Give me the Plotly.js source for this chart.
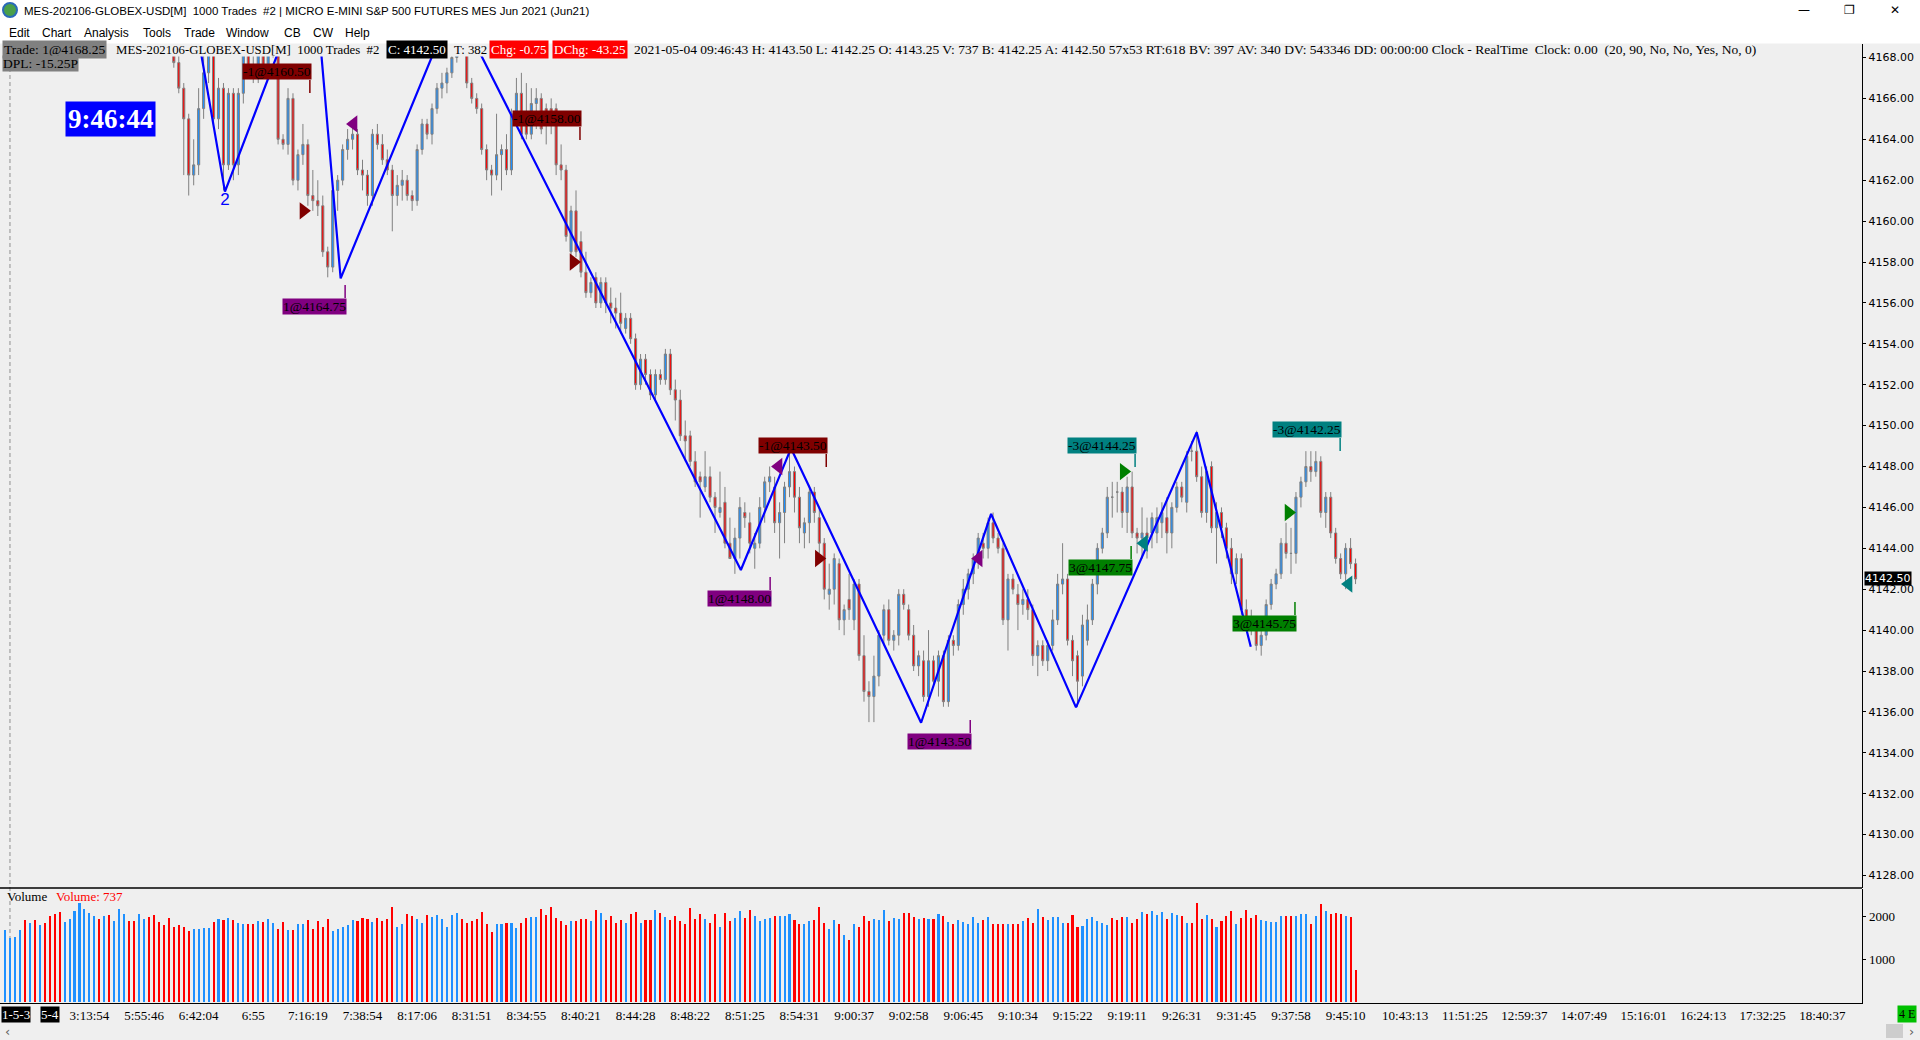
<!DOCTYPE html>
<html><head><meta charset="utf-8">
<script src="https://cdn.plot.ly/plotly-3.0.1.min.js"></script>
<style>html,body{margin:0;padding:0;background:#efefef;overflow:hidden}#chart{width:1920px;height:1040px}</style>
</head><body><div id="chart"></div>
<script>
// ---------------- DATA ----------------
const barOpen = [
4171.0,4171.75,4172.5,4173.25,4174.0,4173.0,4174.5,4173.5,4175.0,4174.0,
4172.75,4171.5,4170.25,4171.5,4172.5,4173.75,4175.25,4176.25,4177.0,4178.0,
4176.75,4177.75,4176.25,4177.0,4178.25,4178.75,4177.25,4175.75,4176.75,4177.5,
4176.0,4174.5,4173.0,4171.5,4169.5,4167.75,4166.5,4165.0,4162.25,4162.75,
4165.5,4167.25,4168.25,4165.0,4166.5,4162.75,4166.25,4162.75,4166.25,4168.25,
4167.5,4167.0,4168.25,4167.5,4168.5,4169.0,4164.0,4163.75,4166.0,4162.0,
4163.25,4163.75,4161.25,4161.0,4160.75,4158.5,4157.75,4161.5,4162.0,4163.5,
4164.0,4164.25,4162.5,4162.25,4161.25,4164.25,4163.75,4163.0,4162.5,4161.25,
4161.75,4162.0,4161.25,4161.0,4163.5,4164.75,4164.25,4165.5,4166.5,4166.75,
4167.25,4168.0,4170.0,4168.5,4166.75,4166.0,4165.5,4163.5,4162.5,4162.25,
4163.25,4163.5,4162.5,4165.25,4166.25,4165.0,4164.25,4165.75,4166.0,4165.5,
4165.5,4165.5,4162.75,4162.5,4158.5,4160.5,4159.0,4157.5,4156.5,4157.25,
4156.0,4157.0,4156.0,4155.75,4155.5,4154.75,4155.25,4154.25,4152.0,4153.25,
4152.5,4151.5,4152.5,4152.25,4153.5,4151.75,4151.25,4149.5,4149.5,4148.25,
4147.5,4147.0,4147.5,4146.5,4145.75,4146.25,4144.25,4143.5,4144.5,4145.75,
4145.25,4144.0,4144.25,4146.0,4147.25,4147.0,4145.25,4145.75,4147.0,4147.75,
4146.5,4144.75,4145.25,4146.75,4145.5,4144.25,4141.75,4142.0,4143.25,4140.5,
4141.5,4140.5,4142.25,4138.75,4137.0,4136.75,4137.75,4139.75,4141.0,4139.5,
4139.75,4141.75,4141.0,4139.75,4138.25,4138.5,4136.75,4138.5,4137.5,4138.75,
4136.5,4139.5,4139.25,4141.25,4142.0,4142.75,4143.5,4144.25,4144.0,4145.25,
4144.5,4144.0,4140.5,4142.5,4141.75,4141.25,4141.5,4141.0,4138.75,4139.25,
4138.5,4139.25,4140.5,4142.25,4142.5,4139.5,4138.75,4137.75,4139.5,4140.5,
4142.25,4144.0,4144.75,4146.5,4146.75,4146.75,4145.75,4147.0,4144.75,4144.5,
4144.75,4144.75,4144.75,4145.25,4145.5,4144.75,4146.0,4147.0,4146.25,4148.75,
4148.75,4147.5,4145.75,4148.0,4145.0,4145.75,4145.0,4144.0,4142.75,4143.5,
4141.0,4140.5,4140.0,4139.25,4139.75,4141.25,4142.25,4142.75,4144.25,4143.75,
4143.75,4146.5,4147.25,4148.0,4147.75,4148.25,4145.75,4146.5,4144.75,4143.5,
4142.75,4144.0,4143.25];
const barHigh = [
4172.25,4173.0,4173.5,4174.5,4174.5,4174.75,4175.0,4175.25,4175.5,4174.25,
4173.0,4171.75,4171.75,4172.75,4174.0,4175.5,4176.5,4177.5,4178.25,4178.5,
4178.0,4178.0,4177.25,4178.5,4179.0,4179.0,4177.5,4177.0,4177.75,4177.75,
4176.25,4174.75,4173.25,4171.75,4169.75,4168.25,4166.75,4165.25,4164.0,4166.5,
4168.25,4168.75,4168.75,4167.0,4166.75,4166.5,4166.5,4166.5,4168.75,4169.0,
4168.25,4168.5,4168.75,4168.75,4169.25,4169.25,4164.25,4166.5,4166.25,4163.5,
4164.75,4164.0,4162.5,4162.0,4161.25,4158.75,4161.75,4162.25,4163.75,4164.5,
4164.75,4164.5,4163.0,4162.5,4164.5,4164.75,4164.25,4163.5,4162.75,4162.25,
4162.5,4162.25,4161.5,4163.75,4165.0,4165.0,4165.75,4166.75,4167.25,4167.5,
4168.75,4170.5,4170.75,4168.75,4167.0,4166.25,4165.75,4163.75,4162.75,4165.25,
4163.75,4164.25,4165.5,4167.0,4167.25,4166.75,4166.5,4166.5,4166.25,4165.75,
4166.0,4165.75,4163.75,4162.75,4160.75,4161.5,4159.5,4158.5,4157.25,4157.5,
4157.25,4157.25,4156.75,4156.25,4156.5,4155.5,4155.5,4154.5,4153.5,4153.5,
4152.75,4152.75,4152.75,4153.75,4153.75,4152.25,4151.75,4150.25,4149.75,4148.75,
4147.75,4148.75,4148.0,4146.75,4147.75,4147.0,4145.5,4145.0,4146.5,4146.25,
4145.75,4144.75,4146.5,4147.5,4148.0,4147.5,4146.25,4147.25,4149.0,4148.0,
4147.0,4145.5,4147.0,4147.0,4146.0,4144.5,4143.25,4143.75,4143.5,4141.25,
4142.75,4142.5,4142.5,4139.75,4137.5,4138.75,4140.0,4141.25,4141.5,4140.0,
4142.0,4142.0,4141.25,4140.25,4139.0,4139.0,4140.0,4138.75,4139.0,4139.0,
4139.75,4139.75,4141.5,4142.5,4143.0,4143.75,4144.75,4144.75,4145.5,4145.75,
4144.75,4144.25,4142.75,4142.75,4142.25,4142.0,4142.0,4141.25,4139.5,4139.5,
4139.5,4141.0,4142.75,4144.25,4142.75,4139.75,4139.0,4140.75,4141.25,4142.5,
4144.25,4145.0,4147.0,4147.25,4147.25,4147.0,4147.5,4147.75,4145.0,4146.0,
4145.5,4145.75,4146.0,4146.25,4146.5,4146.25,4147.25,4147.25,4148.75,4149.25,
4149.75,4148.0,4148.0,4148.25,4146.25,4146.0,4145.25,4144.5,4143.75,4143.75,
4141.5,4141.0,4140.5,4140.0,4141.5,4142.5,4143.0,4144.5,4145.25,4145.0,
4146.75,4147.5,4148.75,4148.75,4148.75,4148.5,4146.75,4146.75,4145.0,4143.75,
4144.25,4144.5,4143.5];
const barLow = [
4170.5,4171.25,4172.0,4172.75,4172.5,4172.75,4173.25,4173.25,4173.75,4172.5,
4171.25,4170.0,4169.75,4171.0,4172.25,4173.5,4175.0,4176.0,4176.75,4176.5,
4176.25,4176.0,4175.75,4176.75,4177.75,4177.0,4175.5,4175.25,4176.25,4175.75,
4174.25,4172.75,4171.25,4169.25,4167.5,4166.25,4162.25,4161.25,4161.75,4162.25,
4165.0,4166.75,4164.75,4164.5,4161.5,4162.5,4162.0,4162.25,4165.75,4167.0,
4166.75,4166.75,4167.25,4167.25,4168.0,4163.75,4163.5,4163.25,4161.75,4161.5,
4162.75,4160.75,4160.5,4160.25,4158.25,4157.25,4157.5,4160.5,4161.75,4163.0,
4163.5,4162.25,4161.5,4160.75,4160.75,4163.5,4162.75,4162.25,4159.5,4160.75,
4161.0,4161.0,4160.5,4160.75,4163.25,4164.0,4163.75,4165.25,4166.0,4166.25,
4167.0,4167.75,4168.25,4166.5,4165.75,4165.25,4163.25,4162.0,4161.25,4162.0,
4161.5,4162.25,4162.25,4165.0,4164.0,4164.0,4164.0,4164.5,4164.25,4163.75,
4164.25,4162.25,4162.0,4159.0,4158.0,4158.25,4157.25,4156.25,4156.25,4155.75,
4155.75,4155.5,4155.0,4154.75,4154.5,4154.5,4154.0,4151.75,4151.75,4152.0,
4151.25,4151.25,4152.0,4152.0,4151.5,4150.25,4149.25,4148.25,4148.0,4147.0,
4145.5,4146.75,4146.25,4144.75,4145.5,4144.0,4143.5,4142.75,4143.5,4145.0,
4143.75,4143.0,4144.0,4145.25,4146.75,4144.75,4143.5,4144.25,4146.5,4145.75,
4144.25,4144.0,4144.25,4145.25,4143.75,4141.5,4141.0,4141.25,4140.0,4139.75,
4140.5,4140.0,4138.5,4136.5,4135.5,4135.5,4137.25,4139.25,4139.25,4139.0,
4139.25,4141.0,4139.5,4138.0,4137.75,4136.5,4136.25,4137.25,4136.75,4136.25,
4136.25,4138.75,4139.0,4140.75,4141.5,4142.25,4143.0,4143.5,4143.5,4144.25,
4143.75,4140.25,4139.0,4141.75,4140.0,4140.75,4140.5,4138.25,4137.75,4138.25,
4138.0,4139.0,4140.25,4141.75,4139.25,4137.75,4136.25,4137.25,4139.25,4140.25,
4141.75,4143.75,4144.5,4145.5,4145.75,4145.0,4144.75,4144.5,4143.75,4143.5,
4143.5,4144.0,4144.25,4144.5,4143.75,4144.0,4145.75,4146.25,4145.75,4148.25,
4147.25,4145.5,4145.25,4144.75,4143.25,4144.5,4143.5,4142.25,4142.25,4140.75,
4140.0,4139.75,4139.0,4138.75,4139.5,4141.0,4142.0,4142.5,4143.5,4142.75,
4143.25,4146.0,4147.0,4147.25,4147.5,4145.5,4145.0,4144.5,4143.25,4142.5,
4142.0,4143.0,4142.25];
const barClose = [
4171.75,4172.5,4173.25,4174.0,4173.0,4174.5,4173.5,4175.0,4174.0,4172.75,
4171.5,4170.25,4171.5,4172.5,4173.75,4175.25,4176.25,4177.0,4178.0,4176.75,
4177.75,4176.25,4177.0,4178.25,4178.75,4177.25,4175.75,4176.75,4177.5,4176.0,
4174.5,4173.0,4171.5,4169.5,4167.75,4166.5,4165.0,4162.25,4162.75,4165.5,
4167.25,4168.25,4165.0,4166.5,4162.75,4166.25,4162.75,4166.25,4168.25,4167.5,
4167.0,4168.25,4167.5,4168.5,4169.0,4164.0,4163.75,4166.0,4162.0,4163.25,
4163.75,4161.25,4161.0,4160.75,4158.5,4157.75,4161.5,4162.0,4163.5,4164.0,
4164.25,4162.5,4162.25,4161.25,4164.25,4163.75,4163.0,4162.5,4161.25,4161.75,
4162.0,4161.25,4161.0,4163.5,4164.75,4164.25,4165.5,4166.5,4166.75,4167.25,
4168.0,4170.0,4168.5,4166.75,4166.0,4165.5,4163.5,4162.5,4162.25,4163.25,
4163.5,4162.5,4165.25,4166.25,4164.25,4164.25,4165.75,4166.0,4164.5,4165.25,
4165.25,4162.75,4162.5,4159.25,4160.5,4158.5,4157.5,4156.5,4157.0,4156.0,
4157.0,4156.0,4155.75,4155.5,4155.0,4155.25,4154.25,4152.0,4153.25,4152.5,
4151.5,4152.5,4152.25,4153.5,4151.75,4151.25,4149.5,4149.25,4148.25,4147.25,
4147.25,4147.5,4146.5,4146.0,4146.0,4144.25,4143.5,4144.5,4146.0,4145.5,
4144.25,4144.25,4146.0,4147.25,4147.5,4145.25,4145.75,4147.0,4147.75,4146.5,
4145.0,4145.25,4146.75,4145.75,4144.25,4142.0,4142.0,4143.5,4140.5,4141.0,
4141.0,4142.25,4138.75,4137.0,4136.75,4137.75,4139.75,4141.0,4139.5,4139.75,
4141.75,4141.25,4139.75,4138.25,4138.75,4136.75,4138.5,4137.5,4138.75,4136.5,
4139.5,4139.25,4141.25,4142.0,4142.75,4143.5,4144.5,4144.0,4145.25,4144.5,
4144.0,4140.5,4142.5,4142.0,4141.25,4141.5,4141.0,4138.75,4139.25,4138.5,
4139.25,4140.5,4142.25,4142.5,4139.5,4138.5,4137.5,4140.25,4140.5,4142.25,
4144.0,4144.75,4146.5,4146.5,4146.75,4145.75,4147.0,4144.75,4144.5,4144.75,
4144.5,4145.5,4145.5,4145.75,4144.75,4146.0,4147.0,4146.5,4148.5,4148.75,
4147.5,4145.75,4147.75,4145.0,4145.75,4145.0,4144.0,4142.75,4143.5,4141.0,
4140.5,4140.0,4139.25,4139.75,4141.25,4142.25,4142.75,4144.25,4143.75,4143.75,
4146.5,4147.25,4148.0,4147.75,4148.25,4145.75,4146.5,4144.75,4143.5,4142.75,
4144.0,4143.25,4142.5];
const volume = [
1674,1496,1511,1674,1907,1837,1907,1798,1845,2007,
2038,2100,1868,1930,2116,2294,2170,2069,2007,1930,
2000,2030,1891,2155,2038,1891,1891,2046,1930,1969,
2015,1868,1790,1961,1752,1798,1744,1659,1697,1705,
1721,1721,1852,1922,1899,1953,1907,1829,1814,1814,
1814,1891,1860,1930,1837,1705,1868,1674,1674,1814,
1814,1907,1697,1884,1752,1930,1659,1705,1744,1798,
1907,1876,1953,1930,1868,1953,1876,1930,2209,1744,
1806,2054,2000,1930,1837,2030,1984,2030,1930,1744,
2015,2069,1922,1837,1884,1938,2093,1806,1636,1806,
1806,1829,1845,1721,1837,1945,1984,1984,2170,2030,
2217,1953,1876,1783,1891,1891,1930,1930,1891,2139,
2069,1914,2000,1845,1899,1845,2054,2100,1845,1899,
1899,2139,2069,1984,1914,2007,1876,1821,2193,1938,
2038,1930,1829,2038,1744,2077,1876,1961,2124,1961,
2131,2007,1876,1930,1961,2007,2007,2000,2054,1907,
1814,1814,1876,1907,2217,1829,1697,1907,1814,1558,
1442,1814,1752,2007,1884,1930,1914,2139,1891,1961,
1938,2069,2069,1976,1930,1961,1930,1938,2054,2007,
1868,1821,1900,1868,1806,1976,1845,1914,1976,1821,
1821,1821,1821,1821,1821,1891,1961,1845,2170,1984,
1914,1984,1984,1829,1845,2030,1752,1775,1930,1984,
1891,1845,1798,1961,1899,1984,1984,1837,1930,2093,
2054,2116,2030,2093,1930,2069,2030,2007,1845,1845,
2310,1930,2030,1930,1744,1891,2007,2116,1821,1953,
2139,1953,2023,1914,1891,1868,1868,2007,2007,2007,
2007,2046,2046,1821,2007,2279,2116,2054,2069,2046,
2007,1984,737];

const tickIdx  = [17,28,39,50,61,72,83,94,105,116,127,138,149,160,171,182,193,204,215,226,237,248,259,270,282,294,306,318,330,342,354,366];
const tickText = ['3:13:54','5:55:46','6:42:04','6:55','7:16:19','7:38:54','8:17:06','8:31:51','8:34:55','8:40:21','8:44:28','8:48:22','8:51:25','8:54:31','9:00:37','9:02:58','9:06:45','9:10:34','9:15:22','9:19:11','9:26:31','9:31:45','9:37:58','9:45:10','10:43:13','11:51:25','12:59:37','14:07:49','15:16:01','16:24:13','17:32:25','18:40:37'];
const dateIdx  = [2.3, 9.0];
const dateText = ['1-5-3', '5-4'];

const zzIdx   = [37.5, 44.3, 56.5, 63.2, 67.6, 90.5, 148.2, 158.3, 184.5, 198.6, 215.7, 240.0, 250.9];
const zzPrice = [4171.0, 4161.44, 4169.2, 4169.6, 4157.2, 4170.7, 4142.94, 4148.89, 4135.47, 4145.68, 4136.22, 4149.67, 4139.19];
const zzLabelIdx = [44.3], zzLabelPrice = [4160.98], zzLabelText = ['2'];

const mkIdx    = [60.1, 70.2, 114.5, 155.8, 163.9, 196.1, 225.3, 229.4, 258.5, 270.6];
const mkPrice  = [4160.50, 4164.75, 4158.00, 4148.00, 4143.50, 4143.50, 4147.75, 4144.25, 4145.75, 4142.25];
const mkSymbol = ['triangle-right','triangle-left','triangle-right','triangle-left','triangle-right','triangle-left','triangle-right','triangle-left','triangle-right','triangle-left'];
const mkColor  = ['#800000','#800080','#800000','#800080','#800000','#800080','#008000','#008080','#008000','#008080'];

const trText  = ['-1@4160.50','1@4164.75','-1@4158.00','1@4148.00','-1@4143.50','1@4143.50','-3@4144.25','3@4147.75','3@4145.75','-3@4142.25'];
const trIdx   = [61.4, 68.5, 115.8, 154.1, 165.4, 194.4, 227.6, 226.8, 259.8, 268.9];
const trPrice = [4166.26, 4156.88, 4163.97, 4142.60, 4147.98, 4135.61, 4147.98, 4144.11, 4141.37, 4148.76];
const trColor = ['#7f0000','#800080','#7f0000','#800080','#7f0000','#800080','#008080','#007f00','#007f00','#008080'];

const lastPrice = 4142.50;
const volTicks = [1000, 2000];

// ---------------- GEOMETRY ----------------
const plotW = 1862, plotTop = 44, plotBot = 1003;
const xp = px => px / plotW;
const yp = py => (plotBot - py) / (plotBot - plotTop);
const priceRange = [4127.389, 4168.66];
const ptPx = (888 - 44) / (priceRange[1] - priceRange[0]);
const UP = '#1e90ff', DN = '#ff0000', WICK = '#808080';
const SERIF = 'Liberation Serif, Times New Roman, serif';
const SANS = 'Liberation Sans, Arial, sans-serif';
const barIdx = barClose.map((_, i) => i);
const volColors = barClose.map((c, i) => c > barOpen[i] ? UP : DN);

const traces = [
  {type:'candlestick', x:barIdx, open:barOpen, high:barHigh, low:barLow, close:barClose,
   xaxis:'x', yaxis:'y', whiskerwidth:0, hoverinfo:'skip', showlegend:false,
   increasing:{line:{color:WICK, width:1}, fillcolor:UP},
   decreasing:{line:{color:WICK, width:1}, fillcolor:DN}},
  {type:'scatter', mode:'lines', x:zzIdx, y:zzPrice, xaxis:'x', yaxis:'y',
   line:{color:'#0000ff', width:2.2}, hoverinfo:'skip', showlegend:false},
  {type:'scatter', mode:'text', x:zzLabelIdx, y:zzLabelPrice, text:zzLabelText, xaxis:'x', yaxis:'y',
   textfont:{family:SANS, size:17, color:'#0000ff'}, hoverinfo:'skip', showlegend:false},
  {type:'scatter', mode:'markers', x:mkIdx, y:mkPrice, xaxis:'x', yaxis:'y',
   marker:{symbol:mkSymbol, color:mkColor, size:15, line:{width:0}}, hoverinfo:'skip', showlegend:false},
  {type:'bar', x:barIdx, y:volume, xaxis:'x', yaxis:'y2', width:0.42,
   marker:{color:volColors, line:{width:0}}, hoverinfo:'skip', showlegend:false}
];
// trade label stems
trText.forEach((t, k) => {
  const sell = t.charAt(0) === '-';
  const len = 13 / ptPx;
  traces.push({type:'scatter', mode:'lines', x:[trIdx[k], trIdx[k]],
    y:[trPrice[k], trPrice[k] + (sell ? len : -len)], xaxis:'x', yaxis:'y',
    line:{color:trColor[k], width:1.5}, hoverinfo:'skip', showlegend:false});
});

// ---------------- ANNOTATIONS ----------------
function txt(text, px, py, o) {
  o = o || {};
  return {xref:'paper', yref:'paper', x:xp(px), y:yp(py), xanchor:o.xanchor || 'left', yanchor:'middle',
    text:text, showarrow:false, bgcolor:o.bg || 'rgba(0,0,0,0)', borderpad:o.pad === undefined ? 1 : o.pad,
    font:{family:o.family || SERIF, size:o.size || 13.5, color:o.color || '#000'}};
}
const NB = '\u00a0';
const ann = [
  // window title + menu
  txt('MES-202106-GLOBEX-USD[M]' + NB + NB + '1000 Trades' + NB + NB + '#2 | MICRO E-MINI S&amp;P 500 FUTURES MES Jun 2021 (Jun21)', 22, 11, {family:SANS, size:11.5}),
  txt('\u2014', 1804, 10, {family:'DejaVu Sans', size:12, xanchor:'center'}),
  txt('\u2750', 1849, 10, {family:'DejaVu Sans', size:12, xanchor:'center'}),
  txt('\u2715', 1895, 10, {family:'DejaVu Sans', size:12, xanchor:'center'}),
  txt('Edit', 7, 33, {family:SANS, size:12}), txt('Chart', 40, 33, {family:SANS, size:12}), txt('Analysis', 82, 33, {family:SANS, size:12}),
  txt('Tools', 141, 33, {family:SANS, size:12}), txt('Trade', 182, 33, {family:SANS, size:12}), txt('Window', 224, 33, {family:SANS, size:12}),
  txt('CB', 282, 33, {family:SANS, size:12}), txt('CW', 311, 33, {family:SANS, size:12}), txt('Help', 343, 33, {family:SANS, size:12}),
  // status line
  txt('Trade: 1@4168.25', 2, 50, {bg:'#808080', pad:1}),
  txt('MES-202106-GLOBEX-USD[M]' + NB + NB + '1000 Trades' + NB + NB + '#2', 114, 50, {size:12.8}),
  txt('C: 4142.50', 386, 50, {bg:'#000', color:'#fff', pad:1, size:13}),
  txt('T: 382', 452, 50, {size:12.8}),
  txt('Chg: -0.75', 489, 50, {bg:'#ff0000', color:'#fff', pad:1, size:13}),
  txt('DChg: -43.25', 552, 50, {bg:'#ff0000', color:'#fff', pad:1, size:13}),
  txt('2021-05-04 09:46:43 H: 4143.50 L: 4142.25 O: 4143.25 V: 737 B: 4142.25 A: 4142.50 57x53 RT:618 BV: 397 AV: 340 DV: 543346 DD: 00:00:00 Clock - RealTime' + NB + NB + 'Clock: 0.00' + NB + NB + '(20, 90, No, No, Yes, No, 0)', 632, 50),
  txt('DPL: -15.25P', 2, 63.5, {bg:'#808080', pad:0}),
  // clock box
  txt('<b>9:46:44</b>', 110, 119, {bg:'#0000ff', color:'#fff', size:27, family:SERIF, xanchor:'center', pad:2}),
  // volume pane title
  txt('Volume', 5, 896, {size:13}),
  txt('Volume: 737', 54, 896, {size:13, color:'#ff0000'}),
  // bottom right status
  txt('4 E', 1907, 1014, {bg:'#00c000', size:12, xanchor:'center', pad:1}),
  txt('\u2039', 7, 1031, {family:'DejaVu Sans', size:13, color:'#606060', xanchor:'center'}),
  txt('\u203a', 1911, 1031, {family:'DejaVu Sans', size:13, color:'#606060', xanchor:'center'}),
  // last price tag on price axis
  {xref:'paper', yref:'y', x:xp(1864), y:lastPrice, xanchor:'left', yanchor:'middle', text:lastPrice.toFixed(2),
   showarrow:false, bgcolor:'#000', borderpad:0, font:{family:'DejaVu Sans', size:11, color:'#fff'}}
];
dateText.forEach((t, k) => ann.push({xref:'x', yref:'paper', x:dateIdx[k], y:yp(1014), xanchor:'center', yanchor:'middle',
  text:t, showarrow:false, bgcolor:'#000', borderpad:0, font:{family:SERIF, size:13, color:'#fff'}}));
trText.forEach((t, k) => {
  const sell = t.charAt(0) === '-';
  ann.push({xref:'x', yref:'y', x:trIdx[k], y:trPrice[k], xanchor:'right', yanchor:sell ? 'bottom' : 'top',
    xshift:2, yshift:sell ? 13 : -13, text:t, showarrow:false, bgcolor:trColor[k], borderpad:0,
    font:{family:SERIF, size:13.5, color:'#000'}});
});

// ---------------- SHAPES ----------------
const shapes = [
  {type:'rect', xref:'paper', yref:'paper', x0:0, x1:xp(1920), y0:yp(43.5), y1:yp(0), fillcolor:'#ffffff', line:{width:0}, layer:'above'},
  {type:'rect', xref:'paper', yref:'paper', x0:0, x1:xp(1861.4), y0:yp(56.5), y1:yp(44), fillcolor:'#efefef', line:{width:0}, layer:'above'},
  {type:'line', xref:'paper', yref:'paper', x0:0, x1:1, y0:yp(888), y1:yp(888), line:{color:'#000', width:1.3}, layer:'above'},
  {type:'line', xref:'x', yref:'paper', x0:1, x1:1, y0:0, y1:yp(58), line:{color:'#909090', width:1, dash:'4px,3px'}, layer:'below'},
  {type:'rect', xref:'paper', yref:'paper', x0:xp(1886), x1:xp(1903), y0:yp(1038), y1:yp(1024), fillcolor:'#cdcdcd', line:{width:0}},
  {type:'circle', xref:'paper', yref:'paper', x0:xp(3), x1:xp(17), y0:yp(17), y1:yp(3), fillcolor:'#4aa04a', line:{color:'#2a6ab8', width:2}, layer:'above'}
];

const layout = {
  width:1920, height:1040, margin:{l:0, r:58, t:44, b:37, pad:0},
  paper_bgcolor:'#efefef', plot_bgcolor:'#efefef', showlegend:false, hovermode:false,
  boxgap:0.4, bargap:0,
  xaxis:{domain:[0,1], range:[-1.007, 374.0], anchor:'y2', tickmode:'array', tickvals:tickIdx, ticktext:tickText,
    tickangle:0, showgrid:false, zeroline:false, showline:true, linecolor:'#000', linewidth:1, ticks:'',
    tickfont:{family:SERIF, size:13, color:'#000'}, rangeslider:{visible:false}, fixedrange:true},
  yaxis:{domain:[yp(888), 1], range:priceRange, side:'right', anchor:'x', tickmode:'linear', tick0:4128, dtick:2,
    tickformat:'.2f', showgrid:false, zeroline:false, showline:true, linecolor:'#000', linewidth:1.3,
    ticks:'outside', ticklen:3, tickcolor:'#000', tickfont:{family:'DejaVu Sans', size:11, color:'#000'}, fixedrange:true},
  yaxis2:{domain:[0, yp(889)], range:[-23, 2628], side:'right', anchor:'x', tickmode:'array', tickvals:volTicks,
    ticktext:volTicks.map(String), showgrid:false, zeroline:false, showline:true, linecolor:'#000', linewidth:1.3,
    ticks:'outside', ticklen:3, tickcolor:'#000', tickfont:{family:SERIF, size:13, color:'#000'}, fixedrange:true},
  annotations:ann, shapes:shapes
};

Plotly.newPlot('chart', traces, layout, {staticPlot:true, displayModeBar:false});
</script>
</body></html>
